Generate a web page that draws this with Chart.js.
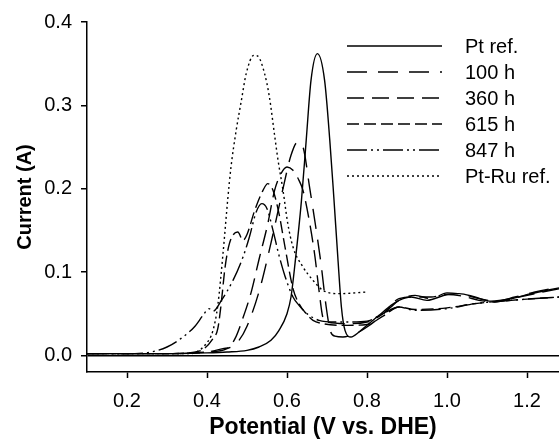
<!DOCTYPE html>
<html>
<head>
<meta charset="utf-8">
<script src="https://cdn.jsdelivr.net/npm/chart.js@4"></script>
<style>
  html, body { margin: 0; padding: 0; background: #fff; }
  canvas { display: block; }
</style>
</head>
<body>
<canvas id="c" width="559" height="441"></canvas>
<script>
// ---- data ----
const xTicks = [0.2, 0.4, 0.6, 0.8, 1.0, 1.2];
const yTicks = [0.0, 0.1, 0.2, 0.3, 0.4];
const seriesLabels = ['Pt ref.', '100 h', '360 h', '615 h', '847 h', 'Pt-Ru ref.'];

const ptRefV = [0.10, 0.20, 0.30, 0.40, 0.45, 0.50, 0.53, 0.56, 0.58, 0.60, 0.61, 0.62, 0.636, 0.648, 0.66, 0.676, 0.694, 0.707, 0.717, 0.727, 0.736, 0.745, 0.76, 0.78, 0.80, 0.83, 0.86, 0.88, 0.91, 0.95, 1.00, 1.03, 1.07, 1.11, 1.16, 1.21, 1.28];
const ptRefI = [0.002, 0.002, 0.002, 0.003, 0.004, 0.006, 0.010, 0.018, 0.030, 0.050, 0.070, 0.110, 0.185, 0.258, 0.330, 0.362, 0.330, 0.258, 0.190, 0.118, 0.058, 0.030, 0.022, 0.028, 0.036, 0.048, 0.060, 0.066, 0.070, 0.066, 0.073, 0.074, 0.070, 0.065, 0.068, 0.074, 0.081];

const h100V = [0.10, 0.30, 0.40, 0.44, 0.46, 0.48, 0.50, 0.531, 0.56, 0.59, 0.61, 0.627, 0.64, 0.657, 0.67, 0.685, 0.698, 0.708, 0.72, 0.74, 0.76, 0.78, 0.80, 0.83, 0.86, 0.88, 0.92, 0.96, 1.00, 1.04, 1.08, 1.12, 1.17, 1.22, 1.28];
const h100I = [0.002, 0.002, 0.004, 0.008, 0.010, 0.018, 0.035, 0.078, 0.135, 0.200, 0.240, 0.256, 0.250, 0.200, 0.160, 0.110, 0.058, 0.030, 0.023, 0.022, 0.024, 0.028, 0.034, 0.045, 0.058, 0.066, 0.072, 0.068, 0.075, 0.073, 0.068, 0.065, 0.070, 0.076, 0.082];

const h360V = [0.10, 0.30, 0.40, 0.45, 0.47, 0.49, 0.51, 0.53, 0.552, 0.569, 0.585, 0.60, 0.615, 0.63, 0.64, 0.657, 0.67, 0.68, 0.69, 0.70, 0.75, 0.80, 0.84, 0.88, 0.92, 0.96, 1.00, 1.04, 1.08, 1.12, 1.17, 1.22, 1.28];
const h360I = [0.002, 0.002, 0.004, 0.008, 0.020, 0.045, 0.075, 0.115, 0.158, 0.198, 0.218, 0.226, 0.222, 0.210, 0.198, 0.158, 0.118, 0.078, 0.045, 0.040, 0.038, 0.040, 0.050, 0.068, 0.070, 0.070, 0.073, 0.071, 0.066, 0.064, 0.069, 0.074, 0.080];

const h615V = [0.10, 0.30, 0.38, 0.415, 0.427, 0.435, 0.445, 0.456, 0.477, 0.49, 0.50, 0.52, 0.54, 0.552, 0.565, 0.58, 0.595, 0.615, 0.63, 0.648, 0.665, 0.69, 0.75, 0.80, 0.84, 0.88, 0.92, 1.00, 1.07, 1.16, 1.28];
const h615I = [0.002, 0.002, 0.005, 0.020, 0.032, 0.060, 0.105, 0.134, 0.148, 0.138, 0.145, 0.175, 0.198, 0.206, 0.198, 0.170, 0.130, 0.080, 0.062, 0.050, 0.042, 0.038, 0.036, 0.037, 0.047, 0.058, 0.055, 0.057, 0.062, 0.066, 0.070];

const h847V = [0.10, 0.22, 0.26, 0.30, 0.34, 0.37, 0.39, 0.405, 0.415, 0.436, 0.465, 0.49, 0.506, 0.523, 0.537, 0.55, 0.565, 0.58, 0.595, 0.615, 0.63, 0.65, 0.68, 0.72, 0.76, 0.80, 0.84, 0.88, 0.92, 1.00, 1.07, 1.16, 1.28];
const h847I = [0.002, 0.002, 0.004, 0.010, 0.022, 0.035, 0.048, 0.056, 0.053, 0.066, 0.090, 0.118, 0.142, 0.172, 0.182, 0.176, 0.150, 0.120, 0.095, 0.070, 0.060, 0.050, 0.042, 0.040, 0.040, 0.041, 0.050, 0.058, 0.054, 0.056, 0.062, 0.066, 0.070];

const ptRuV = [0.10, 0.25, 0.356, 0.398, 0.415, 0.427, 0.44, 0.452, 0.46, 0.473, 0.486, 0.498, 0.517, 0.527, 0.544, 0.556, 0.569, 0.577, 0.59, 0.602, 0.615, 0.64, 0.665, 0.69, 0.731, 0.80];
const ptRuI = [0.002, 0.002, 0.002, 0.014, 0.030, 0.060, 0.122, 0.188, 0.226, 0.270, 0.306, 0.338, 0.360, 0.359, 0.338, 0.310, 0.264, 0.236, 0.198, 0.158, 0.130, 0.106, 0.090, 0.078, 0.074, 0.076];

const seriesV = [ptRefV, h100V, h360V, h615V, h847V, ptRuV];
const seriesI = [ptRefI, h100I, h360I, h615I, h847I, ptRuI];
const dashes = [[], [20, 11], [17, 8], [12, 5], [20, 4, 2, 4, 2, 4], [2, 3]];

const FONT = 'Liberation Sans, Arial, sans-serif';

const datasets = seriesLabels.map((lab, i) => ({
  label: lab,
  data: seriesV[i].map((v, k) => ({ x: v, y: seriesI[i][k] })),
  borderColor: '#000',
  borderWidth: 1.4,
  borderDash: dashes[i],
  pointRadius: 0,
  fill: false,
  tension: 0.4,
  cubicInterpolationMode: 'monotone'
}));

const legendPlugin = {
  id: 'insideLegend',
  afterDraw(chart) {
    const ctx = chart.ctx;
    ctx.save();
    chart.data.datasets.forEach((ds, i) => {
      const y = 46 + i * 26;
      ctx.strokeStyle = '#000';
      ctx.lineWidth = 1.4;
      ctx.setLineDash(ds.borderDash || []);
      ctx.beginPath();
      ctx.moveTo(347, y);
      ctx.lineTo(442, y);
      ctx.stroke();
      ctx.setLineDash([]);
      ctx.fillStyle = '#000';
      ctx.font = '20px ' + FONT;
      ctx.textAlign = 'left';
      ctx.textBaseline = 'middle';
      ctx.fillText(ds.label, 465, y + 1);
    });
    ctx.restore();
  }
};

new Chart(document.getElementById('c'), {
  type: 'line',
  data: { datasets },
  plugins: [legendPlugin],
  options: {
    responsive: false,
    animation: false,
    layout: { padding: { top: 22, right: 0, left: 0, bottom: 0 } },
    plugins: { legend: { display: false }, tooltip: { enabled: false } },
    scales: {
      x: {
        type: 'linear',
        min: 0.1,
        max: 1.28,
        afterBuildTicks: s => { s.ticks = xTicks.map(v => ({ value: v })); },
        afterFit: s => { s.height = 69; },
        grid: { drawOnChartArea: false, drawTicks: true, tickLength: 6, tickColor: '#000', tickWidth: 1.5 },
        border: { display: true, color: '#000', width: 1.5 },
        ticks: { font: { family: FONT, size: 20 }, color: '#000', padding: 11, maxRotation: 0, autoSkip: false,
                 callback: v => Number(v).toFixed(1) },
        title: { display: true, text: 'Potential (V vs. DHE)', color: '#000',
                 font: { family: FONT, size: 23, weight: 'bold' }, padding: { top: 0, bottom: 0 } }
      },
      y: {
        type: 'linear',
        min: -0.02,
        max: 0.4,
        afterBuildTicks: s => { s.ticks = yTicks.map(v => ({ value: v })); },
        afterFit: s => { s.width = 87; },
        grid: { drawOnChartArea: true, drawTicks: true, tickLength: 6, tickColor: '#000', tickWidth: 1.5,
                color: c => (c.tick && Math.abs(c.tick.value) < 1e-9) ? '#000' : 'rgba(0,0,0,0)', lineWidth: 1.5 },
        border: { display: true, color: '#000', width: 1.5 },
        ticks: { font: { family: FONT, size: 20 }, color: '#000', padding: 9, autoSkip: false,
                 callback: v => Number(v).toFixed(1) },
        title: { display: true, text: 'Current (A)', color: '#000',
                 font: { family: FONT, size: 20, weight: 'bold' }, padding: { top: 13, bottom: 0 } }
      }
    }
  }
});
</script>
</body>
</html>
